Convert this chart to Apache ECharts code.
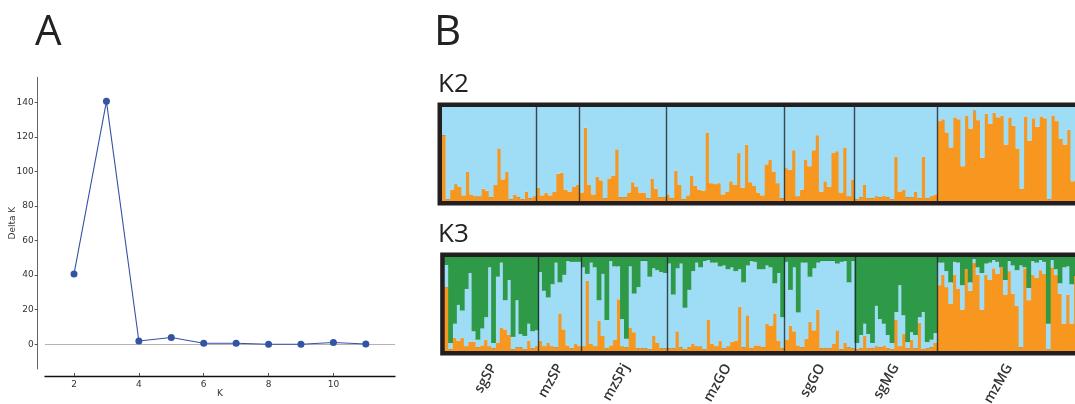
<!DOCTYPE html>
<html><head><meta charset="utf-8">
<script src="https://cdn.jsdelivr.net/npm/echarts@6/dist/echarts.min.js"></script>
<style>html,body{margin:0;padding:0;background:#fff}#c{width:1075px;height:404px}</style>
</head><body><div id="c"></div>
<script>
// Panel A: Delta K
const kValues = [2, 3, 4, 5, 6, 7, 8, 9, 10, 11];
const deltaK = [40.7, 140.5, 1.9, 3.9, 0.6, 0.6, 0.0, 0.0, 1.0, 0.2];
const yTicks = [0, 20, 40, 60, 80, 100, 120, 140];
const xTicks = [2, 4, 6, 8, 10];

// Panel B: populations
const popNames = ['sgSP', 'mzSP', 'mzSPj', 'mzGO', 'sgGO', 'sgMG', 'mzMG'];
const popSizes = [24, 11, 22, 30, 18, 21, 36];

// K2: orange membership (blue = rest)
const k2Orange = [
 0.70,0.02,0.12,0.18,0.15,0.06,0.31,0.07,0.05,0.05,0.13,0.11,0.04,0.17,0.56,0.23,0.31,0.02,0.07,0.04,0.02,0.10,0.03,0.05,
 0.14,0.06,0.09,0.06,0.10,0.29,0.30,0.12,0.10,0.15,0.17,
 0.09,0.78,0.17,0.07,0.26,0.22,0.03,0.24,0.27,0.55,0.04,0.04,0.09,0.20,0.15,0.09,0.09,0.03,0.24,0.13,0.04,0.04,
 0.07,0.03,0.32,0.17,0.02,0.06,0.27,0.16,0.12,0.11,0.73,0.19,0.18,0.19,0.07,0.10,0.21,0.17,0.51,0.14,0.60,0.20,0.16,0.09,0.06,0.39,0.44,0.31,0.19,0.03,
 0.35,0.33,0.54,0.05,0.12,0.44,0.37,0.54,0.70,0.10,0.21,0.15,0.51,0.53,0.09,0.57,0.05,0.23,
 0.02,0.04,0.17,0.03,0.03,0.05,0.04,0.06,0.04,0.02,0.47,0.10,0.12,0.04,0.04,0.10,0.03,0.47,0.03,0.05,0.07,
 0.85,0.87,0.73,0.57,0.89,0.87,0.37,0.91,0.77,0.96,0.86,0.46,0.93,0.82,0.94,0.89,0.91,0.60,0.89,0.80,0.56,0.13,0.90,0.64,0.88,0.79,0.90,0.88,0.02,0.91,0.85,0.66,0.60,0.76,0.21,0.80
];

// K3: orange membership, and orange+blue cumulative (green = rest)
const k3Orange = [
 0.68,0.02,0.14,0.11,0.14,0.05,0.10,0.10,0.04,0.06,0.12,0.05,0.03,0.085,0.245,0.23,0.17,0.02,0.04,0.04,0.02,0.11,0.03,0.05,
 0.11,0.05,0.085,0.05,0.04,0.40,0.23,0.06,0.03,0.075,0.05,
 0.05,0.745,0.075,0.05,0.32,0.16,0.03,0.06,0.12,0.55,0.05,0.04,0.245,0.20,0.03,0.03,0.03,0.02,0.16,0.085,0.03,0.03,
 0.03,0.03,0.21,0.04,0.02,0.04,0.075,0.05,0.05,0.02,0.33,0.075,0.05,0.11,0.03,0.05,0.10,0.11,0.47,0.04,0.38,0.03,0.06,0.06,0.04,0.29,0.27,0.40,0.11,0.03,
 0.12,0.27,0.21,0.06,0.04,0.13,0.31,0.22,0.44,0.03,0.03,0.03,0.075,0.22,0.02,0.085,0.04,0.03,
 0.02,0.03,0.16,0.03,0.03,0.05,0.04,0.06,0.03,0.02,0.33,0.05,0.18,0.03,0.12,0.03,0.30,0.02,0.03,0.04,0.085,
 0.70,0.81,0.68,0.50,0.81,0.66,0.44,0.87,0.64,0.94,0.81,0.44,0.81,0.755,0.88,0.82,0.89,0.60,0.85,0.61,0.48,0.04,0.88,0.54,0.81,0.78,0.86,0.82,0.02,0.89,0.81,0.61,0.29,0.60,0.29,0.80
];
const k3OrangeBlue = [
 0.915,0.085,0.29,0.49,0.43,0.66,0.83,0.21,0.12,0.24,0.36,0.89,0.085,0.79,0.94,0.54,0.755,0.15,0.54,0.18,0.16,0.29,0.21,0.22,
 0.84,0.64,0.57,0.71,0.94,0.73,0.81,0.96,0.95,0.95,0.95,
 0.89,0.82,0.94,0.89,0.54,0.82,0.33,0.96,0.90,0.90,0.34,0.13,0.90,0.61,0.68,0.96,0.96,0.79,0.88,0.86,0.84,0.83,
 0.93,0.60,0.88,0.93,0.46,0.65,0.85,0.94,0.89,0.96,0.97,0.94,0.94,0.90,0.91,0.87,0.89,0.85,0.87,0.73,0.91,0.96,0.95,0.87,0.87,0.91,0.89,0.72,0.83,0.36,
 0.95,0.65,0.89,0.41,0.94,0.94,0.79,0.88,0.94,0.96,0.96,0.96,0.96,0.93,0.95,0.96,0.73,0.96,
 0.085,0.17,0.29,0.18,0.085,0.48,0.34,0.29,0.17,0.085,0.415,0.70,0.38,0.095,0.20,0.17,0.36,0.415,0.095,0.12,0.19,
 0.94,0.94,0.85,0.73,0.95,0.94,0.70,0.87,0.73,0.98,0.89,0.83,0.93,0.94,0.97,0.95,0.89,0.755,0.96,0.91,0.86,0.91,0.89,0.67,0.96,0.94,0.97,0.95,0.29,0.97,0.87,0.72,0.89,0.90,0.71,0.80
];

const ORANGE = '#f7971f', BLUE = '#9fdcf5', GREEN = '#2e9a48', FRAME = '#231f20';

// individuals
const ids = [];
const boundarySet = new Set();
const centerSet = new Set();
let start = 0;
popNames.forEach((p, pi) => {
  if (pi > 0) boundarySet.add(start);
  centerSet.add(start + Math.floor(popSizes[pi] / 2));
  for (let j = 0; j < popSizes[pi]; j++) ids.push(p + '_' + (j + 1));
  start += popSizes[pi];
});

const k2Blue = k2Orange.map(v => +(1 - v).toFixed(4));
const k3Blue = k3OrangeBlue.map((c, i) => +(c - k3Orange[i]).toFixed(4));
const k3Green = k3OrangeBlue.map(c => +(1 - c).toFixed(4));

const chart = echarts.init(document.getElementById('c'), null, {renderer: 'canvas'});

const divider = {show: true, interval: (i) => boundarySet.has(i), lineStyle: {color: 'rgba(30,32,36,0.8)', width: 1.4}};
const frameGrid = {show: true, borderColor: FRAME, borderWidth: 9, backgroundColor: 'rgba(0,0,0,0)', outerBoundsMode: 'none', containLabel: false};

const barBase = {type: 'bar', barWidth: '122%', barGap: '-100%', silent: true, emphasis: {disabled: true}};
const fill = (c) => ({color: c, borderWidth: 0});

chart.setOption({
  animation: false,
  textStyle: {fontFamily: 'DejaVu Sans'},
  title: [
    {text: 'A', left: 30, top: 7, textStyle: {fontSize: 42, fontWeight: 'normal', color: '#222', fontFamily: 'Open Sans'}},
    {text: 'B', left: 429, top: 7, textStyle: {fontSize: 42, fontWeight: 'normal', color: '#222', fontFamily: 'Open Sans'}},
    {text: 'K2', left: 433, top: 67, textStyle: {fontSize: 26, fontWeight: 'normal', color: '#222', fontFamily: 'Open Sans'}},
    {text: 'K3', left: 433, top: 217, textStyle: {fontSize: 26, fontWeight: 'normal', color: '#222', fontFamily: 'Open Sans'}}
  ],
  grid: [
    {left: 45, right: 680, top: 77.3, bottom: 35, outerBoundsMode: 'none', containLabel: false},
    Object.assign({left: 442, right: -3.7, top: 107, height: 94}, frameGrid),
    Object.assign({left: 444.7, right: -2.6, top: 257, height: 94}, frameGrid)
  ],
  xAxis: [
    {gridIndex: 0, type: 'value', min: 1.105, max: 11.9, offset: 7,
     axisLine: {onZero: false, lineStyle: {color: '#111', width: 1.3}},
     axisTick: {show: true, inside: true, length: 3, customValues: xTicks, lineStyle: {color: '#555'}},
     axisLabel: {customValues: xTicks, fontSize: 9, color: '#333', margin: 4},
     splitLine: {show: false},
     name: 'K', nameLocation: 'middle', nameGap: 13, nameMoveOverlap: false, nameTextStyle: {fontSize: 9, color: '#333'}},
    {gridIndex: 1, type: 'category', data: ids, boundaryGap: true, z: 10,
     axisLine: {show: false}, axisTick: {show: false}, axisLabel: {show: false}, splitLine: divider},
    {gridIndex: 2, type: 'category', data: ids, boundaryGap: true, z: 10,
     axisLine: {show: false}, axisTick: {show: false},
     axisLabel: {show: true, interval: (i) => centerSet.has(i), formatter: (v) => v.split('_')[0],
       rotate: 60, margin: 14, fontSize: 14, fontWeight: 600, color: '#333', fontFamily: 'Open Sans'},
     splitLine: divider}
  ],
  yAxis: [
    {gridIndex: 0, type: 'value', min: -14.3, max: 154.4, offset: 7.3,
     axisLine: {show: true, onZero: false, lineStyle: {color: '#666', width: 1}},
     axisTick: {show: true, length: 3, customValues: yTicks, lineStyle: {color: '#555'}},
     axisLabel: {customValues: yTicks, fontSize: 9, color: '#333', margin: 4},
     splitLine: {show: false},
     name: 'Delta K', nameLocation: 'middle', nameGap: 21, nameMoveOverlap: false, nameTextStyle: {fontSize: 9, color: '#333'}},
    {gridIndex: 1, type: 'value', min: 0, max: 1, show: false, splitLine: {show: false}},
    {gridIndex: 2, type: 'value', min: 0, max: 1, show: false, splitLine: {show: false}}
  ],
  series: [
    {type: 'line', xAxisIndex: 0, yAxisIndex: 0, data: kValues.map((k, i) => [k, deltaK[i]]),
     color: '#3353a3', lineStyle: {width: 1.1, color: '#3353a3'}, symbol: 'circle', symbolSize: 7,
     itemStyle: {color: '#3353a3'}, silent: true, z: 3,
     markLine: {silent: true, symbol: ['none', 'none'], label: {show: false}, z: 1,
       lineStyle: {color: '#b3b3b3', width: 1, type: 'solid'}, data: [{yAxis: 0}]}},
    Object.assign({}, barBase, {name: 'K2 orange', xAxisIndex: 1, yAxisIndex: 1, stack: 'k2', data: k2Orange, itemStyle: fill(ORANGE)}),
    Object.assign({}, barBase, {name: 'K2 blue', xAxisIndex: 1, yAxisIndex: 1, stack: 'k2', data: k2Blue, itemStyle: fill(BLUE)}),
    Object.assign({}, barBase, {name: 'K3 orange', xAxisIndex: 2, yAxisIndex: 2, stack: 'k3', data: k3Orange, itemStyle: fill(ORANGE)}),
    Object.assign({}, barBase, {name: 'K3 blue', xAxisIndex: 2, yAxisIndex: 2, stack: 'k3', data: k3Blue, itemStyle: fill(BLUE)}),
    Object.assign({}, barBase, {name: 'K3 green', xAxisIndex: 2, yAxisIndex: 2, stack: 'k3', data: k3Green, itemStyle: fill(GREEN)})
  ]
});
</script>
</body></html>
